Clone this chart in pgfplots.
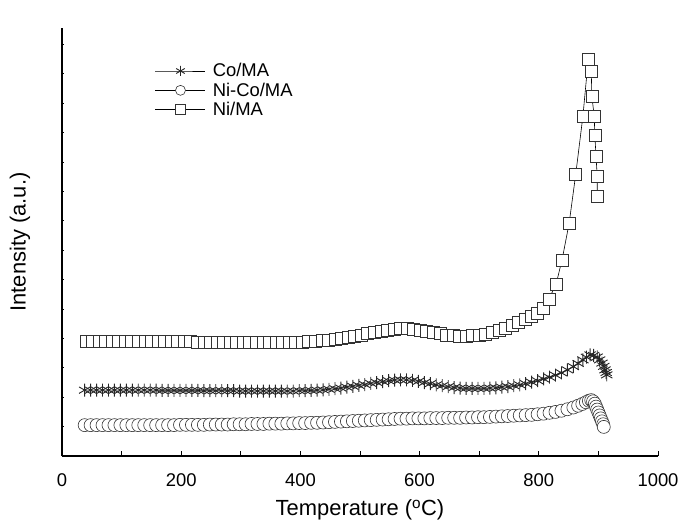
\documentclass[border=0pt]{standalone}
\usepackage{fontspec}
\setmainfont{Liberation Sans}
\usepackage{pgfplots}
\pgfplotsset{compat=1.18}
\begin{document}
\begin{tikzpicture}
\path[use as bounding box] (-62bp,-68bp) rectangle (616bp,456bp);
\begin{axis}[
  scale only axis, width=596bp, height=428bp,
  xmin=0, xmax=1000, ymin=0, ymax=14.56,
  axis lines=left,
  axis line style={line width=1.2bp, -},
  tick align=inside,
  xtick={0,200,...,1000}, minor xtick={100,300,...,900},
  ytick=\empty,
  extra y ticks={1,...,14}, extra y tick labels={},
  extra y tick style={major tick length=2.5bp},
  major tick length=5bp, minor tick length=5bp,
  tick style={black, line width=1bp},
  /pgf/number format/assume math mode=true,
  /pgf/number format/1000 sep={},
  xticklabel style={font=\fontsize{18.5}{18.5}\selectfont, anchor=center, yshift=-24bp},
  xlabel={Temperature (\textsuperscript{o}C)},
  ylabel={Intensity (a.u.)},
  xlabel style={font=\fontsize{22}{22}\selectfont, at={(axis description cs:0.5,-0.126)}, anchor=center},
  ylabel style={font=\fontsize{22}{22}\selectfont, at={(axis description cs:-0.0705,0.5)}, anchor=center},
  legend style={draw=none, fill=none, at={(axis description cs:0.156,0.922)}, anchor=north west,
    font=\fontsize{18.5}{18.5}\selectfont, row sep=0.5bp, inner sep=0pt,
    /tikz/every odd column/.append style={column sep=5bp}},
  legend cell align=left,
  legend image code/.code={\draw[mark repeat=2,mark phase=2,#1,mark size=5bp] plot coordinates {(0bp,0bp)(25bp,0bp)(50bp,0bp)};},
]
\addplot[black, line width=0.6bp, mark=asterisk, mark size=6.5bp, mark options={line width=0.9bp, draw=black!85}] coordinates {
(38,2.24)(48,2.24)(58,2.24)(68,2.24)(78,2.24)(88,2.24)(98,2.24)(108,2.24)(118,2.24)(128,2.24)(138,2.24)(148,2.24)(158,2.24)(168,2.23)(178,2.23)(188,2.23)(198,2.23)(208,2.23)(218,2.23)(228,2.23)(238,2.22)(248,2.22)(258,2.22)(268,2.22)(278,2.22)(288,2.22)(298,2.21)(308,2.21)(318,2.21)(328,2.21)(338,2.21)(348,2.21)(358,2.21)(368,2.21)(378,2.21)(388,2.21)(398,2.22)(408,2.22)(418,2.23)(428,2.24)(438,2.25)(448,2.27)(458,2.29)(468,2.31)(478,2.34)(488,2.37)(498,2.40)(508,2.43)(518,2.47)(528,2.50)(538,2.53)(548,2.56)(558,2.58)(568,2.59)(578,2.59)(588,2.57)(598,2.54)(608,2.50)(618,2.46)(628,2.42)(638,2.39)(648,2.36)(658,2.33)(668,2.31)(678,2.30)(688,2.30)(698,2.30)(708,2.30)(718,2.31)(728,2.32)(738,2.34)(748,2.36)(758,2.39)(768,2.42)(778,2.46)(788,2.51)(798,2.56)(808,2.62)(818,2.68)(828,2.75)(838,2.83)(848,2.93)(858,3.04)(866,3.15)(874,3.27)(880,3.36)(886,3.44)(892,3.42)(898,3.37)(902,3.27)(906,3.16)(909,3.05)(911,2.93)(913,2.84)(914,2.76)
};
\addlegendentry{Co/MA}
\addplot[black, line width=0.6bp, mark=*, mark size=6.5bp, mark options={line width=0.6bp, draw=black!80, fill=white}] coordinates {
(38,1.05)(48,1.05)(58,1.05)(68,1.05)(78,1.05)(88,1.05)(98,1.05)(108,1.05)(118,1.05)(128,1.05)(138,1.05)(148,1.05)(158,1.05)(168,1.05)(178,1.05)(188,1.05)(198,1.06)(208,1.06)(218,1.06)(228,1.06)(238,1.06)(248,1.07)(258,1.07)(268,1.07)(278,1.07)(288,1.08)(298,1.08)(308,1.08)(318,1.09)(328,1.09)(338,1.09)(348,1.10)(358,1.10)(368,1.10)(378,1.11)(388,1.11)(398,1.12)(408,1.12)(418,1.13)(428,1.13)(438,1.14)(448,1.15)(458,1.16)(468,1.17)(478,1.18)(488,1.19)(498,1.20)(508,1.21)(518,1.22)(528,1.23)(538,1.24)(548,1.25)(558,1.26)(568,1.27)(578,1.27)(588,1.28)(598,1.28)(608,1.28)(618,1.29)(628,1.29)(638,1.29)(648,1.30)(658,1.30)(668,1.30)(678,1.31)(688,1.31)(698,1.32)(708,1.32)(718,1.33)(728,1.34)(738,1.35)(748,1.36)(758,1.37)(768,1.38)(778,1.39)(788,1.40)(798,1.42)(808,1.44)(818,1.47)(828,1.50)(838,1.54)(848,1.59)(858,1.65)(866,1.71)(873,1.77)(879,1.83)(884,1.88)(888,1.90)(891,1.86)(894,1.78)(896,1.68)(898,1.58)(900,1.48)(902,1.38)(904,1.28)(906,1.18)(908,1.08)(909,0.99)
};
\addlegendentry{Ni-Co/MA}
\addplot[black, line width=0.6bp, mark=square*, mark size=6bp, mark options={line width=0.6bp, draw=black!80, fill=white}] coordinates {
(40,3.90)(51,3.90)(62,3.90)(73,3.90)(84,3.90)(95,3.90)(106,3.90)(117,3.90)(128,3.90)(139,3.90)(150,3.90)(161,3.89)(172,3.89)(183,3.89)(194,3.89)(205,3.89)(216,3.89)(227,3.88)(238,3.88)(249,3.88)(260,3.88)(271,3.87)(282,3.87)(293,3.87)(304,3.86)(315,3.86)(326,3.86)(337,3.86)(348,3.86)(359,3.86)(370,3.86)(381,3.87)(392,3.87)(403,3.88)(414,3.89)(425,3.90)(436,3.92)(447,3.94)(458,3.97)(469,4.00)(480,4.04)(491,4.08)(502,4.12)(513,4.16)(524,4.20)(535,4.24)(546,4.28)(557,4.31)(568,4.33)(579,4.33)(590,4.31)(601,4.28)(612,4.24)(623,4.20)(634,4.16)(645,4.12)(656,4.10)(667,4.08)(678,4.08)(689,4.09)(700,4.11)(711,4.15)(722,4.20)(733,4.27)(744,4.35)(755,4.44)(766,4.54)(777,4.65)(788,4.76)(797,4.86)(807,5.03)(817,5.34)(829,5.85)(839,6.67)(851,7.93)(862,9.59)(874,11.56)(883,13.50)(888,13.10)(889,12.24)(893,11.56)(894,10.92)(896,10.20)(898,9.52)(898,8.84)
};
\addlegendentry{Ni/MA}
\end{axis}
\end{tikzpicture}
\end{document}
